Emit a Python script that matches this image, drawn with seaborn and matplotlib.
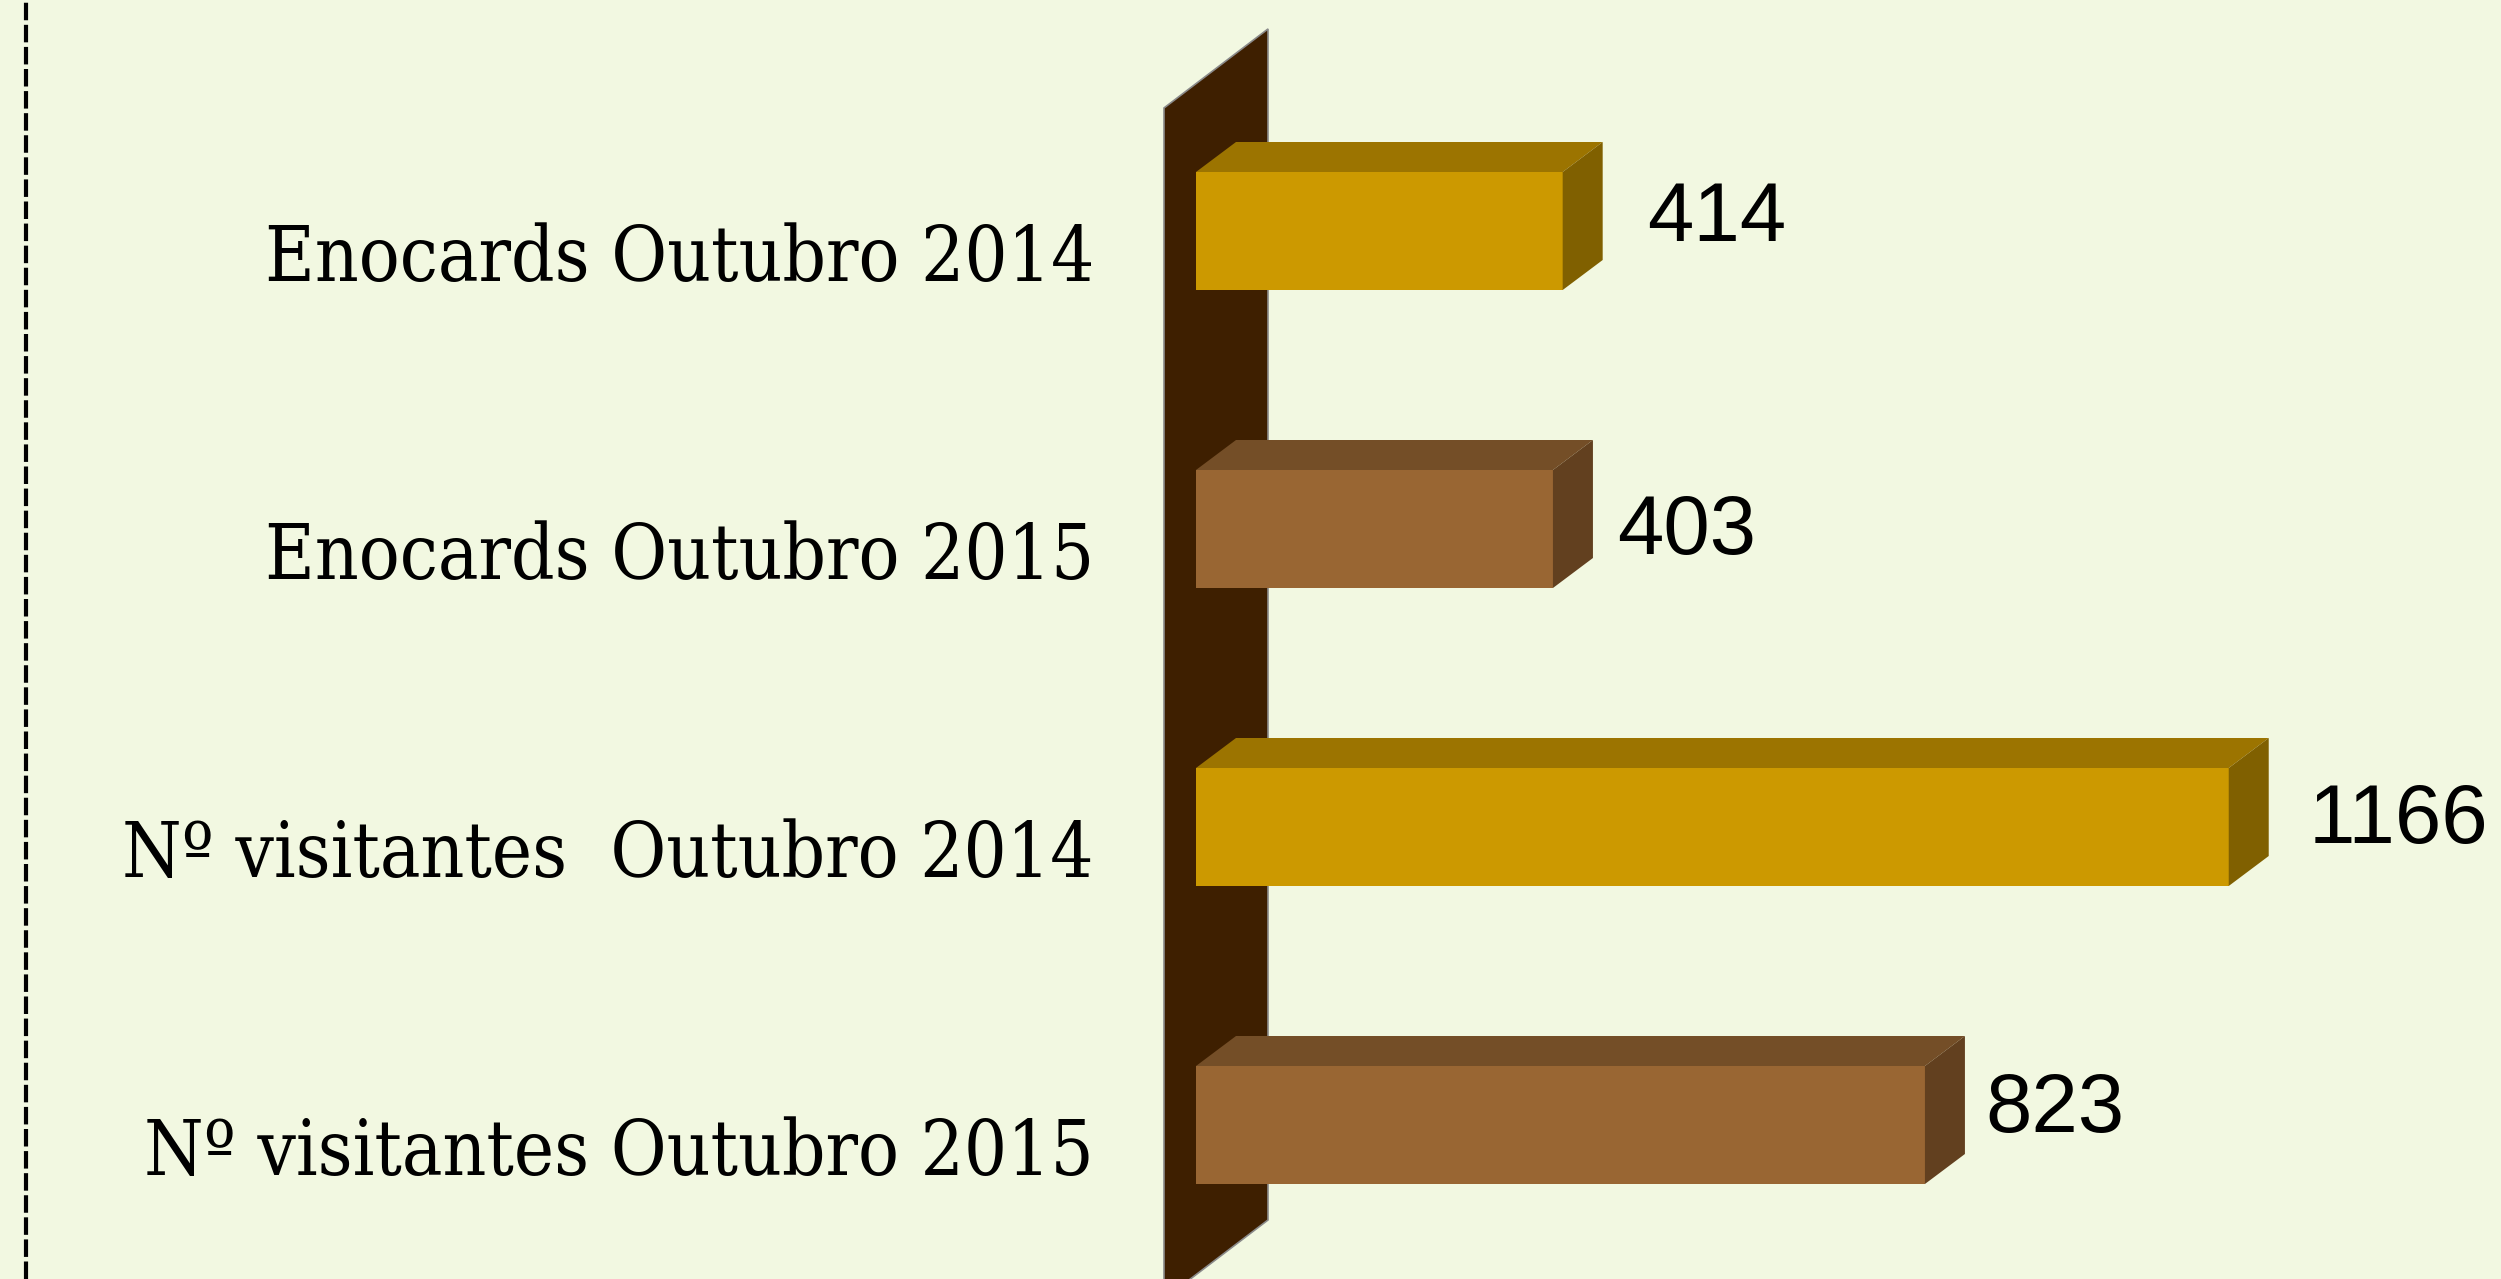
import numpy as np
import matplotlib
matplotlib.use("Agg")
import matplotlib.pyplot as plt
from matplotlib.patches import Polygon
from matplotlib.lines import Line2D
from matplotlib.transforms import ScaledTranslation
import seaborn as sns

# data
categories = [
    "Enocards Outubro 2014",
    "Enocards Outubro 2015",
    "Nº visitantes  Outubro 2014",
    "Nº visitantes Outubro 2015",
]
values = [414, 403, 1166, 823]
value_labels = ["414", "403", "1166", "823"]

front_colors = ["#CC9900", "#996633", "#CC9900", "#996633"]
top_colors = ["#9C7400", "#744E27", "#9C7400", "#744E27"]
side_colors = ["#806000", "#62401F", "#806000", "#62401F"]

bg = "#F2F8E1"

sns.set_style("white")
plt.rcParams["font.family"] = ["Liberation Sans", "DejaVu Sans"]

W, H, DPI = 2501, 1279, 100
fig = plt.figure(figsize=(W / DPI, H / DPI), dpi=DPI)
fig.patch.set_facecolor(bg)

# axes starts at the bar base, spans full height
x0_px = 1196
px_per_unit = 0.8857
row_px = 298
first_row_px = 231
ax = fig.add_axes([x0_px / W, 0, 1 - x0_px / W, 1])
ax.set_facecolor(bg)

sns.barplot(x=values, y=categories, hue=categories, palette=front_colors,
            width=118 / row_px, orient="h", legend=False, saturation=1,
            linewidth=0, ax=ax)

ax.set_xlim(0, (W - x0_px) / px_per_unit)
ax.set_ylim((H - first_row_px) / row_px, -first_row_px / row_px)

# 3d depth in data units
dx = 40 / px_per_unit
dy = 30 / row_px

# back wall
wl, wr = -32 / px_per_unit, 72 / px_per_unit
wtop_r = -0.678
wtop_l = wtop_r + 79 / row_px
wbot_r = (1220 - first_row_px) / row_px
wbot_l = wbot_r + 79 / row_px
wall = Polygon([(wl, wtop_l), (wr, wtop_r), (wr, wbot_r), (wl, wbot_l)],
               closed=True, facecolor="#3E1F00", edgecolor="#8A8A8A",
               linewidth=1.2, clip_on=False, zorder=0.5)
ax.add_patch(wall)

# top and side faces of each bar
for i, bar in enumerate(ax.patches[:len(values)]):
    bx, by = bar.get_x(), bar.get_y()
    bw, bh = bar.get_width(), bar.get_height()
    top = Polygon([(bx, by), (bx + dx, by - dy), (bx + bw + dx, by - dy), (bx + bw, by)],
                  facecolor=top_colors[i], edgecolor="none", zorder=3)
    side = Polygon([(bx + bw, by), (bx + bw + dx, by - dy),
                    (bx + bw + dx, by + bh - dy), (bx + bw, by + bh)],
                   facecolor=side_colors[i], edgecolor="none", zorder=3)
    ax.add_patch(top)
    ax.add_patch(side)
    bar.set_zorder(3)

# value labels
gaps = [44, 24, 40, 20]
voff = [-0.04, 0.01, -0.02, -0.05]
for i, bar in enumerate(ax.patches[:len(values)]):
    xe = bar.get_x() + bar.get_width() + dx + gaps[i] / px_per_unit
    yc = bar.get_y() + bar.get_height() / 2 + voff[i]
    ax.text(xe, yc, value_labels[i], ha="left", va="center",
            fontsize=60, color="black", family=["Liberation Sans", "DejaVu Sans"])

# category labels
ax.set_yticks(range(len(categories)))
ax.set_yticklabels(categories, family=["DejaVu Serif"], fontstretch="condensed",
                   fontsize=54.5, color="black")
ax.tick_params(axis="y", length=0, pad=(x0_px - 1094) * 72 / DPI)
nudge = ScaledTranslation(0, 8 / DPI, fig.dpi_scale_trans)
for lab in ax.get_yticklabels():
    lab.set_va("top")
    lab.set_transform(lab.get_transform() + nudge)
ax.set_xticks([])
ax.set_xlabel("")
ax.set_ylabel("")
for s in ax.spines.values():
    s.set_visible(False)

# dashed border on the left
fig.add_artist(Line2D([26 / W, 26 / W], [0, 1], transform=fig.transFigure,
                      color="black", linewidth=3, linestyle=(0, (4.2, 1.1))))

fig.savefig("out.png", dpi=DPI, facecolor=bg)
